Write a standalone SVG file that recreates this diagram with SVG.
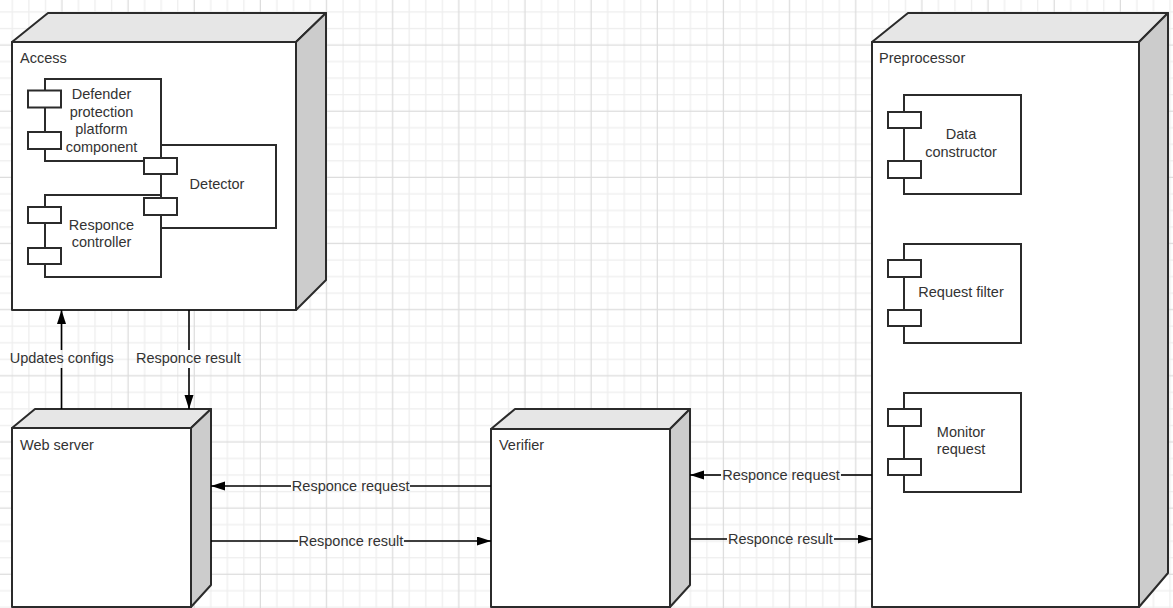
<svg xmlns="http://www.w3.org/2000/svg" width="1173" height="608" viewBox="0 0 1173 608">
<style>
.front{fill:#ffffff;stroke:#2b2b2b;stroke-width:2;stroke-linejoin:round}
.top{fill:#e6e6e6;stroke:#2b2b2b;stroke-width:2;stroke-linejoin:round}
.side{fill:#cccccc;stroke:#2b2b2b;stroke-width:2;stroke-linejoin:round}
.comp{fill:#ffffff;stroke:#2b2b2b;stroke-width:2}
.port{fill:#ffffff;stroke:#2b2b2b;stroke-width:2}
.t{font-family:"Liberation Sans",Arial,sans-serif;font-size:14.5px;fill:#333333}
.c{text-anchor:middle}
.edge{stroke:#000000;stroke-width:1.6;fill:none}
</style>
<defs>
<pattern id="grid" patternUnits="userSpaceOnUse" x="-12.47" y="-29.37" width="66.15" height="66.15">
<rect width="66.15" height="66.15" fill="#ffffff"/>
<g stroke="#eeeeee" stroke-width="1.2">
<line x1="24.81" y1="0" x2="24.81" y2="66.15"/>
<line x1="41.35" y1="0" x2="41.35" y2="66.15"/>
<line x1="57.89" y1="0" x2="57.89" y2="66.15"/>
<line x1="0" y1="24.81" x2="66.15" y2="24.81"/>
<line x1="0" y1="41.35" x2="66.15" y2="41.35"/>
<line x1="0" y1="57.89" x2="66.15" y2="57.89"/>
</g>
<g stroke="#dcdcdc" stroke-width="1.2">
<line x1="8.27" y1="0" x2="8.27" y2="66.15"/>
<line x1="0" y1="8.27" x2="66.15" y2="8.27"/>
</g>
</pattern>
<marker id="arr" markerUnits="userSpaceOnUse" markerWidth="14" markerHeight="10" refX="14" refY="4.5" orient="auto">
<path d="M0,0 L14,4.5 L0,9 z" fill="#000000"/>
</marker>
</defs>
<rect x="0" y="0" width="1173" height="608" fill="url(#grid)"/>

<g id="access">
<polygon class="top" points="12,42 48,13 326,13 296,42"/>
<polygon class="side" points="296,42 326,13 326,280 296,310"/>
<rect class="front" x="12" y="42" width="284" height="268"/>
<text class="t" x="20" y="62.5">Access</text>
<g id="detector">
<rect class="comp" x="161" y="145" width="115" height="83"/>
<text class="t c" x="217" y="188.7">Detector</text>
</g>
<g id="defender">
<rect class="comp" x="45" y="79" width="116" height="82"/>
<rect class="port" x="28" y="90.5" width="33" height="17"/>
<rect class="port" x="28" y="132" width="33" height="17"/>
<text class="t c" x="101.5"><tspan x="101.5" y="99.3">Defender</tspan><tspan x="101.5" y="116.7">protection</tspan><tspan x="101.5" y="134.1">platform</tspan><tspan x="101.5" y="151.5">component</tspan></text>
</g>
<g id="responce-controller">
<rect class="comp" x="45" y="195" width="116" height="82"/>
<rect class="port" x="28" y="207" width="33" height="16"/>
<rect class="port" x="28" y="248" width="33" height="16"/>
<text class="t c" x="101.5"><tspan x="101.5" y="230">Responce</tspan><tspan x="101.5" y="247.4">controller</tspan></text>
</g>
<rect class="port" x="144" y="158" width="33" height="16"/>
<rect class="port" x="144" y="198" width="33" height="17"/>
</g>

<g id="web-server">
<polygon class="top" points="12,428 35,409 211,409 191,428"/>
<polygon class="side" points="191,428 211,409 211,585 191,607"/>
<rect class="front" x="12" y="428" width="179" height="179"/>
<text class="t" x="20" y="450">Web server</text>
</g>

<g id="verifier">
<polygon class="top" points="491,429 515,409 690,409 670,429"/>
<polygon class="side" points="670,429 690,409 690,585 670,607"/>
<rect class="front" x="491" y="429" width="179" height="178"/>
<text class="t" x="499" y="450">Verifier</text>
</g>

<g id="preprocessor">
<polygon class="top" points="872,42 908,13 1168,13 1139,42"/>
<polygon class="side" points="1139,42 1168,13 1168,573 1139,607"/>
<rect class="front" x="872" y="42" width="267" height="565"/>
<text class="t" x="879" y="62.5">Preprocessor</text>
<g id="data-constructor">
<rect class="comp" x="904" y="95" width="117" height="99"/>
<rect class="port" x="888" y="112" width="33" height="16"/>
<rect class="port" x="888" y="161" width="33" height="17"/>
<text class="t c" x="961"><tspan x="961" y="139.3">Data</tspan><tspan x="961" y="156.7">constructor</tspan></text>
</g>
<g id="request-filter">
<rect class="comp" x="904" y="244" width="117" height="99"/>
<rect class="port" x="888" y="260" width="33" height="17"/>
<rect class="port" x="888" y="310" width="33" height="16"/>
<text class="t c" x="961" y="296.7">Request filter</text>
</g>
<g id="monitor-request">
<rect class="comp" x="904" y="393" width="117" height="99"/>
<rect class="port" x="888" y="409" width="33" height="17"/>
<rect class="port" x="888" y="459" width="33" height="16"/>
<text class="t c" x="961"><tspan x="961" y="436.7">Monitor</tspan><tspan x="961" y="454.1">request</tspan></text>
</g>
</g>

<g id="connectors">
<line class="edge" x1="61.5" y1="409" x2="61.5" y2="368"/>
<line class="edge" x1="61.5" y1="350" x2="61.5" y2="310" marker-end="url(#arr)"/>
<text class="t c" x="61.7" y="362.7">Updates configs</text>

<line class="edge" x1="189" y1="310" x2="189" y2="350"/>
<line class="edge" x1="189" y1="368" x2="189" y2="409" marker-end="url(#arr)"/>
<text class="t c" x="188.3" y="362.7">Responce result</text>

<line class="edge" x1="491" y1="486" x2="410" y2="486"/>
<line class="edge" x1="291" y1="486" x2="211" y2="486" marker-end="url(#arr)"/>
<text class="t c" x="350.7" y="490.5">Responce request</text>

<line class="edge" x1="211" y1="541" x2="298" y2="541"/>
<line class="edge" x1="404" y1="541" x2="491" y2="541" marker-end="url(#arr)"/>
<text class="t c" x="350.9" y="545.5">Responce result</text>

<line class="edge" x1="872" y1="475" x2="841" y2="475"/>
<line class="edge" x1="721" y1="475" x2="690" y2="475" marker-end="url(#arr)"/>
<text class="t c" x="781" y="479.5">Responce request</text>

<line class="edge" x1="690" y1="539" x2="727" y2="539"/>
<line class="edge" x1="834" y1="539" x2="872" y2="539" marker-end="url(#arr)"/>
<text class="t c" x="780.4" y="543.5">Responce result</text>
</g>
</svg>
